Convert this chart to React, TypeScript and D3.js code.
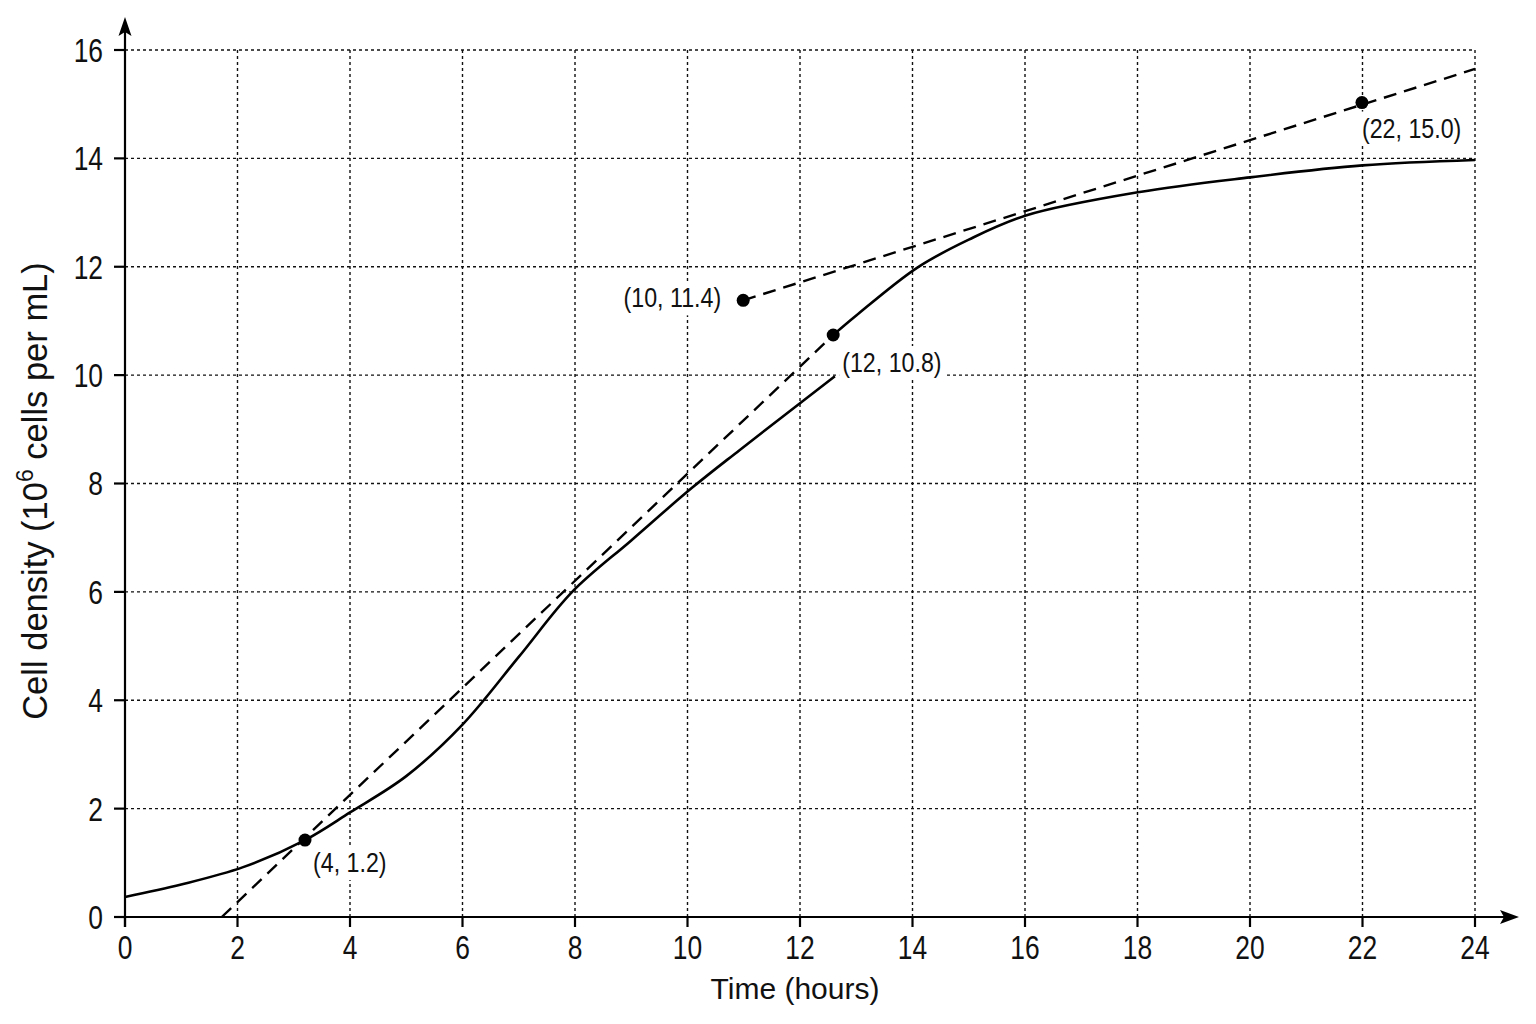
import * as d3 from 'd3';

// axis ticks
const xTicks = [0, 2, 4, 6, 8, 10, 12, 14, 16, 18, 20, 22, 24];
const yTicks = [0, 2, 4, 6, 8, 10, 12, 14, 16];

// growth curve, drawn in two pieces (break near the 12 h point)
const earlyHours = [0, 1, 2.1, 3.2, 4.0, 5.0, 6.0, 7.0, 7.95, 9.0, 10.08, 10.93, 12.62];
const earlyDensity = [0.37, 0.6, 0.92, 1.42, 1.93, 2.6, 3.55, 4.8, 6.0, 6.95, 7.92, 8.62, 9.98];
const lateHours = [12.59, 13, 14.08, 15, 16.03, 18.04, 20, 22, 24];
const lateDensity = [10.74, 11.1, 11.98, 12.5, 12.95, 13.38, 13.65, 13.87, 13.97];

// tangent (dashed) lines
const tangent1Hours = [1.72, 12.59];
const tangent1Density = [0, 10.74];
const tangent2Hours = [10.99, 24];
const tangent2Density = [11.38, 15.65];

// marked points
const pointHours = [3.2, 10.99, 12.59, 21.99];
const pointDensity = [1.42, 11.38, 10.74, 15.03];
const pointLabels = ['(4, 1.2)', '(10, 11.4)', '(12, 10.8)', '(22, 15.0)'];
const labelOffsets: [number, number, string][] = [
  [8, 32, 'start'],
  [-22, 7, 'end'],
  [9, 37, 'start'],
  [0, 35, 'start'],
];

const W = 1536;
const H = 1024;
const sans = '"Liberation Sans", Arial, Helvetica, sans-serif';

// rough Arial advance widths, for the label backgrounds
const charW: Record<string, number> = { '(': 0.333, ')': 0.333, ',': 0.278, ' ': 0.278, '.': 0.278 };
const textWidth = (s: string, size: number) =>
  s.split('').reduce((acc, c) => acc + (charW[c] ?? 0.556), 0) * size;

function Squeezed({ x, y, sx, size, anchor, children, dy }: any) {
  return (
    <text
      transform={`translate(${x},${y}) scale(${sx},1)`}
      textAnchor={anchor}
      fontFamily={sans}
      fontSize={size}
      dy={dy}
      fill="#111"
    >
      {children}
    </text>
  );
}

export default function App() {
  const x = d3.scaleLinear().domain([0, 24]).range([125, 1475]);
  const y = d3.scaleLinear().domain([0, 16]).range([917, 50]);

  const line = d3
    .line<[number, number]>()
    .x(d => x(d[0]))
    .y(d => y(d[1]))
    .curve(d3.curveCatmullRom.alpha(0.5));
  const straight = d3
    .line<[number, number]>()
    .x(d => x(d[0]))
    .y(d => y(d[1]));

  const zip = (a: number[], b: number[]) => a.map((v, i) => [v, b[i]] as [number, number]);

  const x0 = x(0);
  const y0 = y(0);
  const tickSx = 0.8;
  const labelSx = 0.86;
  const labelSize = 27;

  return (
    <svg
      width={W}
      height={H}
      viewBox={`0 0 ${W} ${H}`}
      style={{ position: 'absolute', left: 0, top: 0, background: '#fff' }}
    >
      <rect width={W} height={H} fill="#fff" />

      {/* grid */}
      <g stroke="#111" strokeWidth={1.4} strokeDasharray="3,3">
        {xTicks.slice(1).map(t => (
          <line key={'gx' + t} x1={x(t)} x2={x(t)} y1={y(0)} y2={y(16)} />
        ))}
        {yTicks.slice(1).map(t => (
          <line key={'gy' + t} x1={x(0)} x2={x(24)} y1={y(t)} y2={y(t)} />
        ))}
      </g>

      {/* axes */}
      <g stroke="#000" strokeWidth={2.2}>
        <line x1={x0} x2={x0} y1={y0 + 10} y2={30} />
        <line x1={x0 - 11} x2={1505} y1={y0} y2={y0} />
        {yTicks.map(t => (
          <line key={'ty' + t} x1={x0 - 11} x2={x0} y1={y(t)} y2={y(t)} />
        ))}
        {xTicks.map(t => (
          <line key={'tx' + t} x1={x(t)} x2={x(t)} y1={y0} y2={y0 + 10} />
        ))}
      </g>
      <path d={`M${x0},17 L${x0 - 6.5},36 L${x0},32 L${x0 + 6.5},36 Z`} fill="#000" />
      <path d={`M1519,${y0} L1500,${y0 - 7} L1504,${y0} L1500,${y0 + 7} Z`} fill="#000" />

      {/* tick labels */}
      {yTicks.map(t => (
        <Squeezed key={'ly' + t} x={x0 - 22} y={y(t)} dy="0.36em" sx={tickSx} size={33} anchor="end">
          {t}
        </Squeezed>
      ))}
      {xTicks.map(t => (
        <Squeezed key={'lx' + t} x={x(t)} y={959} sx={tickSx} size={33} anchor="middle">
          {t}
        </Squeezed>
      ))}

      {/* axis titles */}
      <text x={795} y={999} textAnchor="middle" fontFamily={sans} fontSize={30} fill="#111">
        Time (hours)
      </text>
      <text
        transform="translate(47,491) rotate(-90)"
        textAnchor="middle"
        fontFamily={sans}
        fontSize={34.5}
        fill="#111"
      >
        Cell density (10
        <tspan fontSize={23} dy={-14}>6</tspan>
        <tspan dy={14}> cells per mL)</tspan>
      </text>

      {/* tangents */}
      <g fill="none" stroke="#000" strokeWidth={2.4} strokeDasharray="13,8">
        <path d={straight(zip(tangent1Hours, tangent1Density)) ?? ''} />
        <path d={straight(zip(tangent2Hours, tangent2Density)) ?? ''} />
      </g>

      {/* growth curve */}
      <g fill="none" stroke="#000" strokeWidth={2.6}>
        <path d={line(zip(earlyHours, earlyDensity)) ?? ''} />
        <path d={line(zip(lateHours, lateDensity)) ?? ''} />
      </g>

      {/* points */}
      {pointHours.map((t, i) => {
        const [ox, oy, anchor] = labelOffsets[i];
        const lx = x(t) + ox;
        const ly = y(pointDensity[i]) + oy;
        const w = textWidth(pointLabels[i], labelSize) * labelSx;
        const left = anchor === 'end' ? lx - w : lx;
        return (
          <g key={'p' + i}>
            <rect x={left - 3} y={ly - 26} width={w + 6} height={34} fill="#fff" />
            <circle cx={x(t)} cy={y(pointDensity[i])} r={6.5} fill="#000" />
            <Squeezed x={lx} y={ly} sx={labelSx} size={labelSize} anchor={anchor}>
              {pointLabels[i]}
            </Squeezed>
          </g>
        );
      })}
    </svg>
  );
}
